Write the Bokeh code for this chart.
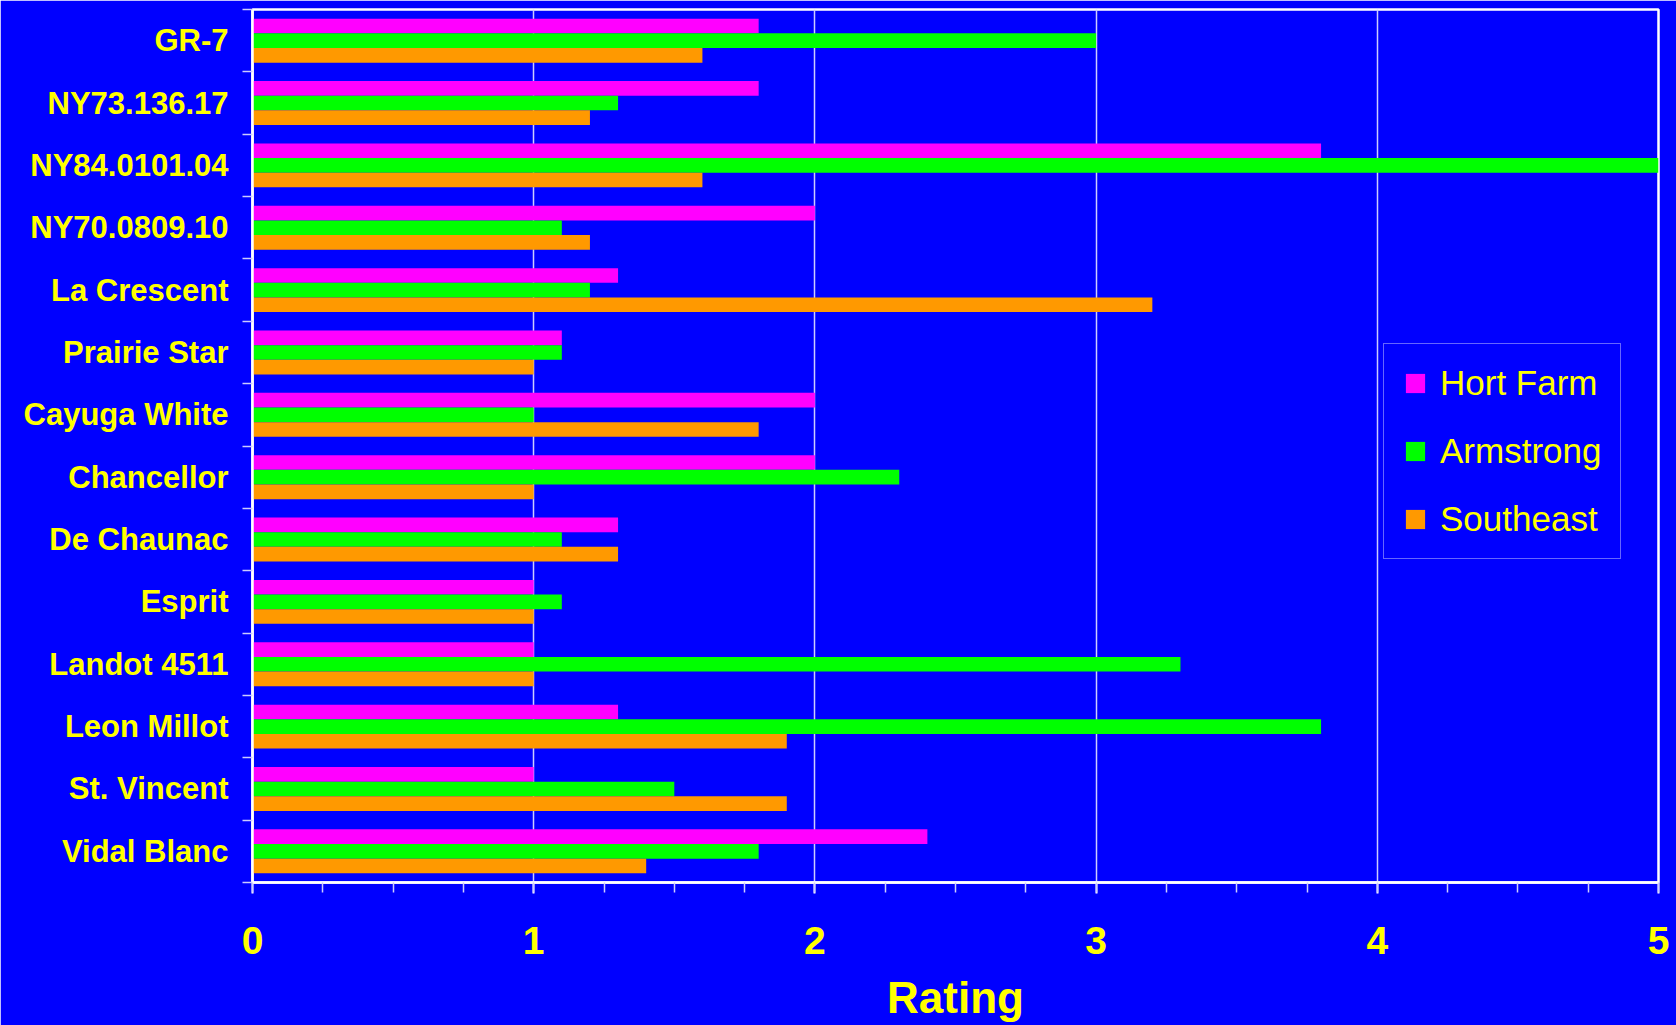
from bokeh.plotting import figure
from bokeh.models import (ColumnDataSource, Range1d, LinearAxis, FixedTicker, SingleIntervalTicker)
from bokeh.transform import dodge
from bokeh.embed import file_html
from bokeh.resources import INLINE

# ---- data (top to bottom as in the chart) ----
varieties = ["GR-7", "NY73.136.17", "NY84.0101.04", "NY70.0809.10", "La Crescent",
             "Prairie Star", "Cayuga White", "Chancellor", "De Chaunac", "Esprit",
             "Landot 4511", "Leon Millot", "St. Vincent", "Vidal Blanc"]
hort_farm = [1.8, 1.8, 3.8, 2.0, 1.3, 1.1, 2.0, 2.0, 1.3, 1.0, 1.0, 1.3, 1.0, 2.4]
armstrong = [3.0, 1.3, 5.0, 1.1, 1.2, 1.1, 1.0, 2.3, 1.1, 1.1, 3.3, 3.8, 1.5, 1.8]
southeast = [1.6, 1.2, 1.6, 1.2, 3.2, 1.0, 1.8, 1.0, 1.3, 1.0, 1.0, 1.9, 1.9, 1.4]
series_names = ["Hort Farm", "Armstrong", "Southeast"]
x_ticks = [0, 1, 2, 3, 4, 5]

BLUE = "#0000FF"
YELLOW = "#FFFF00"
LAV = "#CCCCFF"
FONT = "Liberation Sans"

n = len(varieties)
# category slot k (0 = bottom) -> centre at k + 0.5 ; first variety is at the top
ypos = [n - 1 - i + 0.5 for i in range(n)]
src = ColumnDataSource(dict(cat=varieties, y=ypos, hort=hort_farm, arm=armstrong, se=southeast))

p = figure(width=1676, height=1025,
           y_range=Range1d(0, n), x_range=Range1d(x_ticks[0], x_ticks[-1]),
           y_axis_location=None, output_backend="svg", toolbar_location=None,
           min_border_left=252, min_border_right=18, min_border_top=9, min_border_bottom=143)
p.background_fill_color = BLUE
p.border_fill_color = BLUE
p.outline_line_color = "white"
p.outline_line_width = 2.5

bh = 0.235
colors = ["#FF00FF", "#00FF00", "#FF9900"]
for col, off, color, name in zip(["hort", "arm", "se"], [bh, 0.0, -bh], colors, series_names):
    p.hbar(y=dodge("y", off), left=0, right=col, height=bh,
           fill_color=color, line_color=None, source=src, legend_label=name)

# x axis
xa = p.xaxis[0]
xa.ticker = SingleIntervalTicker(interval=1, num_minor_ticks=4)
xa.axis_line_color = "white"
xa.axis_line_width = 2.5
xa.major_tick_line_color = "white"
xa.major_tick_line_width = 2
xa.major_tick_out = 11
xa.major_tick_in = 0
xa.minor_tick_line_color = LAV
xa.minor_tick_line_width = 1.5
xa.minor_tick_out = 10
xa.minor_tick_in = 0
xa.major_label_text_font = FONT
xa.major_label_text_font_style = "bold"
xa.major_label_text_font_size = "39px"
xa.major_label_text_color = YELLOW
xa.major_label_standoff = 33
xa.axis_label = "Rating"
xa.axis_label_text_font = FONT
xa.axis_label_text_font_style = "bold"
xa.axis_label_text_font_size = "44px"
xa.axis_label_text_color = YELLOW
xa.axis_label_standoff = 16

p.xgrid.grid_line_color = LAV
p.xgrid.grid_line_width = 1.5
p.ygrid.visible = False

# y axis: boundary ticks (inner) + category labels (outer)
bounds = list(range(n + 1))
tick_axis = LinearAxis(ticker=FixedTicker(ticks=bounds, minor_ticks=[]),
                       major_label_overrides={b: "" for b in bounds},
                       major_tick_out=10, major_tick_in=0, major_tick_line_color=LAV,
                       major_tick_line_width=1.5, minor_tick_line_color=None,
                       axis_line_color="white", axis_line_width=2.5, major_label_standoff=0,
                       major_label_text_font_size="1px")
p.add_layout(tick_axis, "left")
label_axis = LinearAxis(ticker=FixedTicker(ticks=ypos, minor_ticks=[]),
                        major_label_overrides={y: v for y, v in zip(ypos, varieties)},
                        axis_line_color=None, major_tick_line_color=None, minor_tick_line_color=None,
                        major_tick_out=0, major_tick_in=0, minor_tick_out=0, minor_tick_in=0,
                        major_label_standoff=14,
                        major_label_text_font=FONT, major_label_text_font_style="bold",
                        major_label_text_font_size="31px", major_label_text_color=YELLOW)
p.add_layout(label_axis, "left")

# legend
lg = p.legend[0]
lg.location = (1131, 323)
lg.margin = 0
lg.padding = 19
lg.spacing = 28
lg.glyph_width = 24
lg.glyph_height = 24
lg.label_standoff = 13
lg.label_text_font = FONT
lg.label_text_font_size = "35px"
lg.label_text_color = YELLOW
lg.background_fill_color = BLUE
lg.background_fill_alpha = 1.0
lg.border_line_color = LAV
lg.border_line_width = 1.5

open("out.html", "w").write(file_html(p, INLINE))
